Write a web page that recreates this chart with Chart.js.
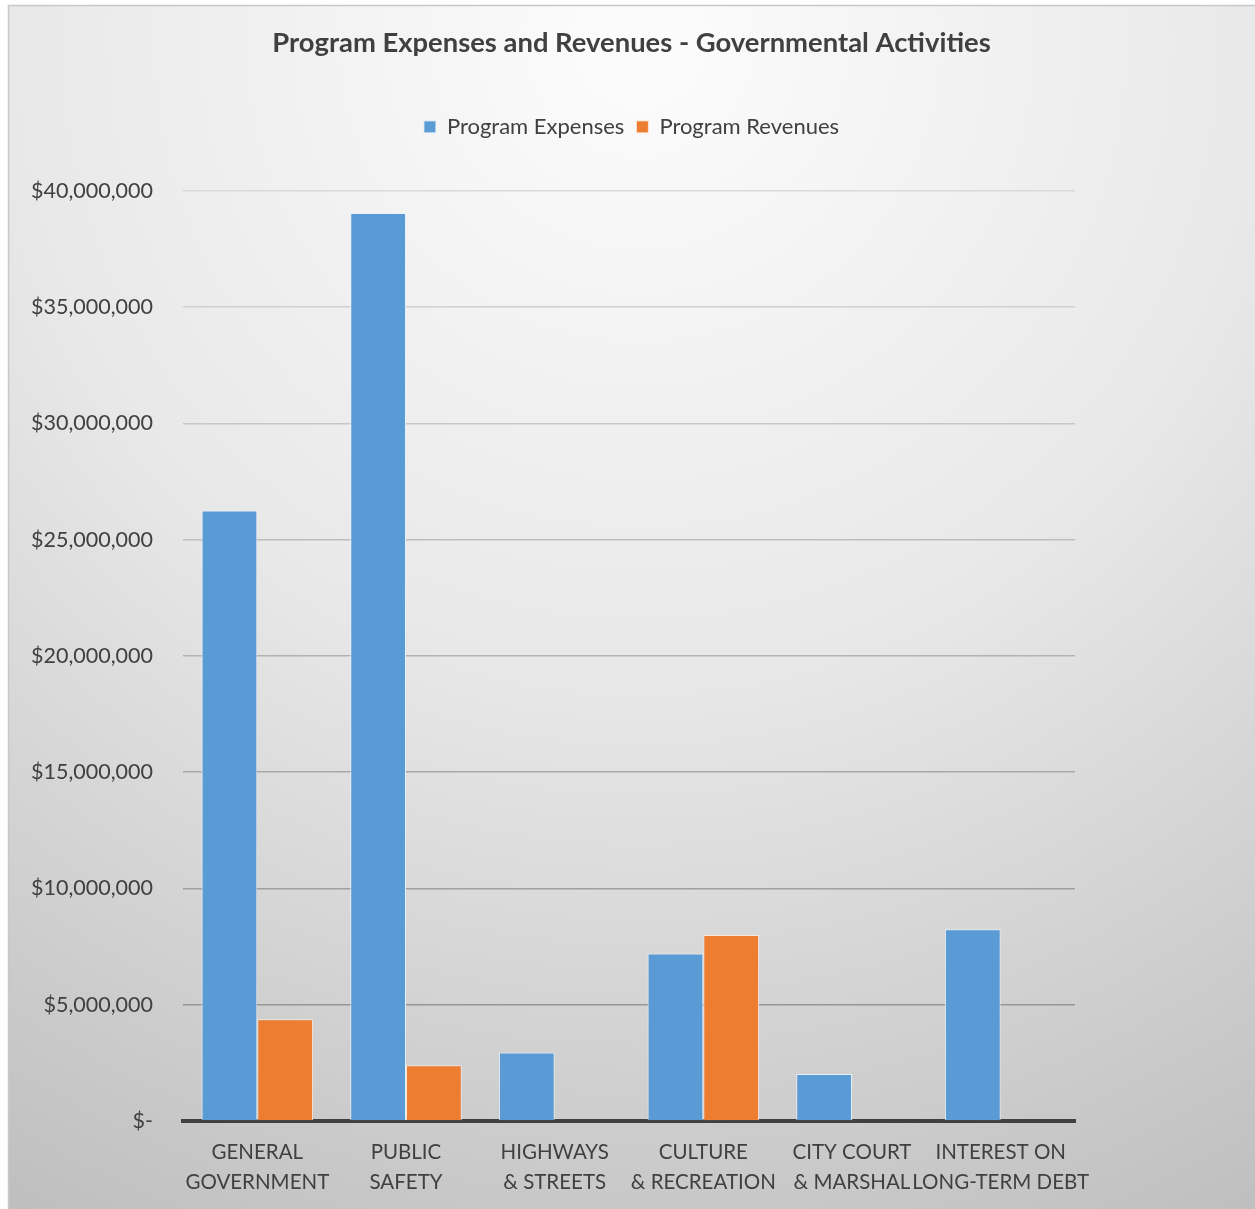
<!DOCTYPE html>
<html>
<head>
<meta charset="utf-8">
<script src="https://cdn.jsdelivr.net/npm/chart.js@4.4.1/dist/chart.umd.min.js"></script>
<style>
    html, body { margin: 0; padding: 0; background: #fff; }
    #wrap { position: relative; width: 1255px; height: 1209px; }
</style>
</head>
<body>
<div id="wrap"><canvas id="chart"></canvas></div>
<script>
// Chart data
const categories = [
    ['GENERAL', 'GOVERNMENT'],
    ['PUBLIC', 'SAFETY'],
    ['HIGHWAYS', '& STREETS'],
    ['CULTURE', '& RECREATION'],
    ['CITY COURT', '& MARSHAL'],
    ['INTEREST ON', 'LONG-TERM DEBT']
];
const programExpenses = [26250000, 39050000, 2950000, 7200000, 2020000, 8250000];
const programRevenues = [4380000, 2400000, 0, 8000000, 0, 0];
const yMax = 40000000;
const yStep = 5000000;

const FONT = 'Lato, "Open Sans", sans-serif';

// Background panel with a soft radial gradient
const backgroundPlugin = {
    id: 'panelBackground',
    beforeInit(chart) {
        // extra room between legend and plot
        const legend = chart.legend;
        if (legend) {
            const origFit = legend.fit;
            legend.fit = function () {
                origFit.call(this);
                this.height += 43;
            };
        }
    },
    beforeDraw(chart) {
        const ctx = chart.ctx;
        const w = chart.width, h = chart.height;
        ctx.save();
        const g = ctx.createRadialGradient(640, 40, 50, 640, 40, 1350);
        g.addColorStop(0, '#fbfbfb');
        g.addColorStop(0.45, '#e8e8e8');
        g.addColorStop(1, '#bdbdbd');
        ctx.fillStyle = g;
        ctx.fillRect(8, 5, w - 8, h - 5);
        ctx.strokeStyle = '#c8c8c8';
        ctx.lineWidth = 1.5;
        ctx.beginPath();
        ctx.moveTo(8.5, h);
        ctx.lineTo(8.5, 5.5);
        ctx.lineTo(w, 5.5);
        ctx.stroke();
        ctx.restore();
    }
};

function gridColor(ctx) {
    const v = ctx.tick ? ctx.tick.value : 0;
    const f = v / yMax;
    const c = Math.round(140 + (218 - 140) * f);
    return `rgb(${c}, ${c}, ${c})`;
}

new Chart(document.getElementById('chart').getContext('2d'), {
    type: 'bar',
    data: {
        labels: categories,
        datasets: [{
            label: 'Program Expenses',
            data: programExpenses,
            backgroundColor: '#5b9bd5',
            borderColor: 'rgba(235, 242, 250, 0.9)',
            borderWidth: 1,
            categoryPercentage: 0.75,
            barPercentage: 1.0
        }, {
            label: 'Program Revenues',
            data: programRevenues,
            backgroundColor: '#ed7d31',
            borderColor: 'rgba(250, 235, 225, 0.9)',
            borderWidth: 1,
            categoryPercentage: 0.75,
            barPercentage: 1.0
        }]
    },
    options: {
        responsive: true,
        maintainAspectRatio: false,
        animation: false,
        layout: {
            padding: { left: 8, right: 0, top: 0, bottom: 0 }
        },
        plugins: {
            title: {
                display: true,
                text: 'Program Expenses and Revenues - Governmental Activities',
                color: '#404040',
                font: { family: FONT, size: 27.4, weight: 'bold' },
                padding: { top: 27, bottom: 44 }
            },
            legend: {
                display: true,
                labels: {
                    color: '#404040',
                    font: { family: FONT, size: 22 },
                    boxWidth: 12,
                    boxHeight: 12,
                    padding: 12
                }
            },
            tooltip: { enabled: false }
        },
        scales: {
            x: {
                afterFit(scale) { scale.height = 88; },
                grid: { display: false, drawTicks: false },
                border: { display: true, color: '#404040', width: 4 },
                ticks: {
                    color: '#404040',
                    font: { family: FONT, size: 20.5, lineHeight: 1.45 },
                    padding: 17,
                    autoSkip: false,
                    maxRotation: 0,
                    minRotation: 0
                }
            },
            y: {
                min: 0,
                max: yMax,
                afterFit(scale) { scale.width = 175; },
                grid: { color: gridColor, lineWidth: 1.5, drawTicks: false },
                border: { display: false },
                ticks: {
                    stepSize: yStep,
                    color: '#404040',
                    font: { family: FONT, size: 21.5 },
                    padding: 30,
                    callback: v => v === 0 ? '$-' : '$' + v.toLocaleString('en-US')
                }
            },
            // empty axis that keeps the right margin
            yRight: {
                position: 'right',
                min: 0,
                max: yMax,
                afterFit(scale) { scale.width = 180; },
                grid: { display: false, drawTicks: false },
                border: { display: false },
                ticks: { display: false }
            }
        }
    },
    plugins: [backgroundPlugin]
});
</script>
</body>
</html>
